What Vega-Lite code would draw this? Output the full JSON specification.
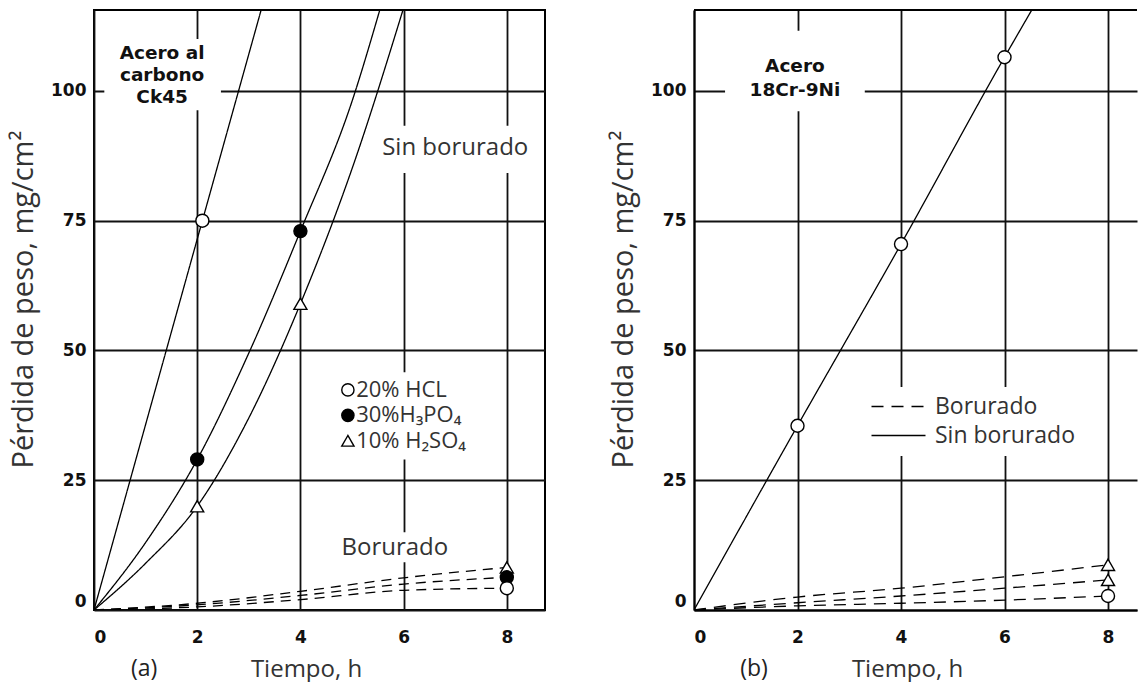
{
  "$schema": "https://vega.github.io/schema/vega-lite/v6.json",
  "background": "white",
  "padding": {"left": 8, "top": 9, "right": 0, "bottom": 0},
  "config": {
    "font": "Open Sans",
    "view": {"stroke": "black", "strokeWidth": 2},
    "axis": {
      "labelFont": "DejaVu Sans",
      "labelFontWeight": "bold",
      "labelFontSize": 17,
      "labelColor": "#111",
      "titleFont": "Open Sans",
      "titleFontWeight": "normal",
      "titleFontSize": 24,
      "titleColor": "#333",
      "gridColor": "#111",
      "gridOpacity": 1,
      "gridWidth": 1.8,
      "domain": false,
      "ticks": false
    },
    "legend": {
      "labelFont": "Open Sans",
      "labelFontSize": 23,
      "labelColor": "#333",
      "fillColor": "white"
    }
  },
  "datasets": {
    "curvas": [
      {"panel": "a", "serie": "HCL sin", "acido": "20% HCL", "tratamiento": "Sin borurado", "t": 0, "perdida": 0},
      {"panel": "a", "serie": "HCL sin", "acido": "20% HCL", "tratamiento": "Sin borurado", "t": 2.1, "perdida": 75},
      {"panel": "a", "serie": "HCL sin", "acido": "20% HCL", "tratamiento": "Sin borurado", "t": 3.25, "perdida": 116},
      {"panel": "a", "serie": "H3PO4 sin", "acido": "30%H₃PO₄", "tratamiento": "Sin borurado", "t": 0, "perdida": 0},
      {"panel": "a", "serie": "H3PO4 sin", "acido": "30%H₃PO₄", "tratamiento": "Sin borurado", "t": 1, "perdida": 13},
      {"panel": "a", "serie": "H3PO4 sin", "acido": "30%H₃PO₄", "tratamiento": "Sin borurado", "t": 2, "perdida": 29},
      {"panel": "a", "serie": "H3PO4 sin", "acido": "30%H₃PO₄", "tratamiento": "Sin borurado", "t": 3, "perdida": 49.5},
      {"panel": "a", "serie": "H3PO4 sin", "acido": "30%H₃PO₄", "tratamiento": "Sin borurado", "t": 4, "perdida": 73},
      {"panel": "a", "serie": "H3PO4 sin", "acido": "30%H₃PO₄", "tratamiento": "Sin borurado", "t": 5, "perdida": 98},
      {"panel": "a", "serie": "H3PO4 sin", "acido": "30%H₃PO₄", "tratamiento": "Sin borurado", "t": 5.55, "perdida": 116},
      {"panel": "a", "serie": "H2SO4 sin", "acido": "10% H₂SO₄", "tratamiento": "Sin borurado", "t": 0, "perdida": 0},
      {"panel": "a", "serie": "H2SO4 sin", "acido": "10% H₂SO₄", "tratamiento": "Sin borurado", "t": 1, "perdida": 9},
      {"panel": "a", "serie": "H2SO4 sin", "acido": "10% H₂SO₄", "tratamiento": "Sin borurado", "t": 2, "perdida": 20},
      {"panel": "a", "serie": "H2SO4 sin", "acido": "10% H₂SO₄", "tratamiento": "Sin borurado", "t": 3, "perdida": 37},
      {"panel": "a", "serie": "H2SO4 sin", "acido": "10% H₂SO₄", "tratamiento": "Sin borurado", "t": 4, "perdida": 59},
      {"panel": "a", "serie": "H2SO4 sin", "acido": "10% H₂SO₄", "tratamiento": "Sin borurado", "t": 5, "perdida": 85},
      {"panel": "a", "serie": "H2SO4 sin", "acido": "10% H₂SO₄", "tratamiento": "Sin borurado", "t": 6, "perdida": 116},
      {"panel": "a", "serie": "HCL bor", "acido": "20% HCL", "tratamiento": "Borurado", "t": 0, "perdida": 0},
      {"panel": "a", "serie": "HCL bor", "acido": "20% HCL", "tratamiento": "Borurado", "t": 2, "perdida": 0.6},
      {"panel": "a", "serie": "HCL bor", "acido": "20% HCL", "tratamiento": "Borurado", "t": 4, "perdida": 2},
      {"panel": "a", "serie": "HCL bor", "acido": "20% HCL", "tratamiento": "Borurado", "t": 6, "perdida": 3.8},
      {"panel": "a", "serie": "HCL bor", "acido": "20% HCL", "tratamiento": "Borurado", "t": 8, "perdida": 4.2},
      {"panel": "a", "serie": "H3PO4 bor", "acido": "30%H₃PO₄", "tratamiento": "Borurado", "t": 0, "perdida": 0},
      {"panel": "a", "serie": "H3PO4 bor", "acido": "30%H₃PO₄", "tratamiento": "Borurado", "t": 2, "perdida": 1},
      {"panel": "a", "serie": "H3PO4 bor", "acido": "30%H₃PO₄", "tratamiento": "Borurado", "t": 4, "perdida": 2.8},
      {"panel": "a", "serie": "H3PO4 bor", "acido": "30%H₃PO₄", "tratamiento": "Borurado", "t": 6, "perdida": 5},
      {"panel": "a", "serie": "H3PO4 bor", "acido": "30%H₃PO₄", "tratamiento": "Borurado", "t": 8, "perdida": 6.3},
      {"panel": "a", "serie": "H2SO4 bor", "acido": "10% H₂SO₄", "tratamiento": "Borurado", "t": 0, "perdida": 0},
      {"panel": "a", "serie": "H2SO4 bor", "acido": "10% H₂SO₄", "tratamiento": "Borurado", "t": 2, "perdida": 1.3},
      {"panel": "a", "serie": "H2SO4 bor", "acido": "10% H₂SO₄", "tratamiento": "Borurado", "t": 4, "perdida": 3.6},
      {"panel": "a", "serie": "H2SO4 bor", "acido": "10% H₂SO₄", "tratamiento": "Borurado", "t": 6, "perdida": 6.2},
      {"panel": "a", "serie": "H2SO4 bor", "acido": "10% H₂SO₄", "tratamiento": "Borurado", "t": 8, "perdida": 8.2},
      {"panel": "b", "serie": "sin", "tratamiento": "Sin borurado", "t": 0, "perdida": 0},
      {"panel": "b", "serie": "sin", "tratamiento": "Sin borurado", "t": 2, "perdida": 35.5},
      {"panel": "b", "serie": "sin", "tratamiento": "Sin borurado", "t": 4, "perdida": 70.5},
      {"panel": "b", "serie": "sin", "tratamiento": "Sin borurado", "t": 6, "perdida": 106.5},
      {"panel": "b", "serie": "sin", "tratamiento": "Sin borurado", "t": 6.55, "perdida": 116},
      {"panel": "b", "serie": "bor 1", "tratamiento": "Borurado", "t": 0, "perdida": 0},
      {"panel": "b", "serie": "bor 1", "tratamiento": "Borurado", "t": 2, "perdida": 2.5},
      {"panel": "b", "serie": "bor 1", "tratamiento": "Borurado", "t": 4, "perdida": 4.2},
      {"panel": "b", "serie": "bor 1", "tratamiento": "Borurado", "t": 6, "perdida": 6.4},
      {"panel": "b", "serie": "bor 1", "tratamiento": "Borurado", "t": 8, "perdida": 8.7},
      {"panel": "b", "serie": "bor 2", "tratamiento": "Borurado", "t": 0, "perdida": 0},
      {"panel": "b", "serie": "bor 2", "tratamiento": "Borurado", "t": 2, "perdida": 1.4},
      {"panel": "b", "serie": "bor 2", "tratamiento": "Borurado", "t": 4, "perdida": 2.7},
      {"panel": "b", "serie": "bor 2", "tratamiento": "Borurado", "t": 6, "perdida": 4.2},
      {"panel": "b", "serie": "bor 2", "tratamiento": "Borurado", "t": 8, "perdida": 5.8},
      {"panel": "b", "serie": "bor 3", "tratamiento": "Borurado", "t": 0, "perdida": 0},
      {"panel": "b", "serie": "bor 3", "tratamiento": "Borurado", "t": 2, "perdida": 0.8},
      {"panel": "b", "serie": "bor 3", "tratamiento": "Borurado", "t": 4, "perdida": 1.3},
      {"panel": "b", "serie": "bor 3", "tratamiento": "Borurado", "t": 6, "perdida": 1.9},
      {"panel": "b", "serie": "bor 3", "tratamiento": "Borurado", "t": 8, "perdida": 2.7}
    ],
    "medidas": [
      {"panel": "a", "serie": "H2SO4 sin", "acido": "10% H₂SO₄", "t": 2, "perdida": 20},
      {"panel": "a", "serie": "H2SO4 sin", "acido": "10% H₂SO₄", "t": 4, "perdida": 59},
      {"panel": "a", "serie": "H2SO4 bor", "acido": "10% H₂SO₄", "t": 8, "perdida": 8.2},
      {"panel": "a", "serie": "H3PO4 sin", "acido": "30%H₃PO₄", "t": 2, "perdida": 29},
      {"panel": "a", "serie": "H3PO4 sin", "acido": "30%H₃PO₄", "t": 4, "perdida": 73},
      {"panel": "a", "serie": "H3PO4 bor", "acido": "30%H₃PO₄", "t": 8, "perdida": 6.3},
      {"panel": "a", "serie": "HCL sin", "acido": "20% HCL", "t": 2.1, "perdida": 75},
      {"panel": "a", "serie": "HCL bor", "acido": "20% HCL", "t": 8, "perdida": 4.2},
      {"panel": "b", "serie": "sin", "t": 2, "perdida": 35.5},
      {"panel": "b", "serie": "sin", "t": 4, "perdida": 70.5},
      {"panel": "b", "serie": "sin", "t": 6, "perdida": 106.5},
      {"panel": "b", "serie": "bor 1", "t": 8, "perdida": 8.7},
      {"panel": "b", "serie": "bor 2", "t": 8, "perdida": 5.8},
      {"panel": "b", "serie": "bor 3", "t": 8, "perdida": 2.7}
    ]
  },
  "spacing": 63,
  "resolve": {
    "scale": {"x": "independent", "y": "independent", "shape": "independent", "fill": "independent", "strokeDash": "independent"},
    "legend": {"shape": "independent", "fill": "independent", "strokeDash": "independent"}
  },
  "hconcat": [
    {
      "width": 451,
      "height": 600,
      "layer": [
        {
          "data": {"values": [{}]},
          "mark": {"type": "rect", "color": "white"},
          "encoding": {
            "x": {"datum": 0.2, "type": "quantitative", "scale": {"domain": [0, 8.74], "nice": false}},
            "x2": {"datum": 2.46},
            "y": {"datum": 96.3, "type": "quantitative", "scale": {"domain": [0, 115.6], "nice": false}},
            "y2": {"datum": 110}
          }
        },
        {
          "data": {"values": [{}]},
          "mark": {"type": "rect", "color": "white"},
          "encoding": {"x": {"datum": 5.45}, "x2": {"datum": 8.66}, "y": {"datum": 84.2}, "y2": {"datum": 93.3}}
        },
        {
          "data": {"values": [{}]},
          "mark": {"type": "rect", "color": "white"},
          "encoding": {"x": {"datum": 4.73}, "x2": {"datum": 6.9}, "y": {"datum": 9.2}, "y2": {"datum": 15}}
        },
        {
          "data": {"values": [{}]},
          "mark": {"type": "rect", "color": "white"},
          "encoding": {"x": {"datum": 4.69}, "x2": {"datum": 7.97}, "y": {"datum": 29.0}, "y2": {"datum": 45.8}}
        },
        {
          "data": {"name": "curvas"},
          "transform": [{"filter": "datum.panel === 'a'"}],
          "mark": {"type": "line", "color": "black", "strokeWidth": 1.3, "interpolate": "monotone", "clip": true},
          "encoding": {
            "x": {
              "field": "t", "type": "quantitative", "title": "Tiempo, h",
              "scale": {"domain": [0, 8.74], "nice": false},
              "axis": {"values": [0, 2, 4, 6, 8], "grid": true, "labelPadding": 19, "titlePadding": 12, "titleX": 212}
            },
            "y": {
              "field": "perdida", "type": "quantitative", "title": "Pérdida de peso, mg/cm²",
              "scale": {"domain": [0, 115.6], "nice": false},
              "axis": {
                "values": [0, 25, 50, 75, 100], "grid": true, "labelPadding": 8, "titlePadding": 12,
                "titleFontSize": 29, "titleY": 289,
                "labelOffset": {"condition": {"test": "datum.value === 0", "value": -9}, "value": 0}
              }
            },
            "detail": {"field": "serie"},
            "strokeDash": {
              "field": "tratamiento", "type": "nominal", "legend": null,
              "scale": {"domain": ["Borurado", "Sin borurado"], "range": [[10, 7], [1, 0]]}
            }
          }
        },
        {
          "data": {"name": "medidas"},
          "transform": [{"filter": "datum.panel === 'a'"}],
          "mark": {"type": "point", "filled": true, "stroke": "black", "strokeWidth": 1.4, "size": 170, "opacity": 1},
          "encoding": {
            "x": {"field": "t", "type": "quantitative"},
            "y": {"field": "perdida", "type": "quantitative"},
            "shape": {
              "field": "acido", "type": "nominal", "legend": null,
              "scale": {"domain": ["20% HCL", "30%H₃PO₄", "10% H₂SO₄"], "range": ["circle", "circle", "triangle-up"]}
            },
            "fill": {
              "field": "acido", "type": "nominal", "legend": null,
              "scale": {"domain": ["20% HCL", "30%H₃PO₄", "10% H₂SO₄"], "range": ["white", "black", "white"]}
            }
          }
        },
        {
          "data": {"values": [{}]},
          "mark": {"type": "point", "shape": "circle", "filled": true, "fill": "white", "stroke": "black", "strokeWidth": 1.4, "size": 150, "opacity": 1},
          "encoding": {"x": {"datum": 4.92}, "y": {"datum": 42.4}}
        },
        {
          "data": {"values": [{}]},
          "mark": {"type": "point", "shape": "circle", "filled": true, "fill": "black", "stroke": "black", "strokeWidth": 1.4, "size": 150, "opacity": 1},
          "encoding": {"x": {"datum": 4.92}, "y": {"datum": 37.5}}
        },
        {
          "data": {"values": [{}]},
          "mark": {"type": "point", "shape": "triangle-up", "filled": true, "fill": "white", "stroke": "black", "strokeWidth": 1.4, "size": 150, "opacity": 1},
          "encoding": {"x": {"datum": 4.92}, "y": {"datum": 32.6}}
        },
        {
          "data": {"values": [{}]},
          "mark": {"type": "text", "fontSize": 22, "align": "left", "baseline": "middle", "color": "#333", "text": "20% HCL"},
          "encoding": {"x": {"datum": 5.08}, "y": {"datum": 42.4}}
        },
        {
          "data": {"values": [{}]},
          "mark": {"type": "text", "fontSize": 22, "align": "left", "baseline": "middle", "color": "#333", "text": "30%H₃PO₄"},
          "encoding": {"x": {"datum": 5.08}, "y": {"datum": 37.5}}
        },
        {
          "data": {"values": [{}]},
          "mark": {"type": "text", "fontSize": 22, "align": "left", "baseline": "middle", "color": "#333", "text": "10% H₂SO₄"},
          "encoding": {"x": {"datum": 5.08}, "y": {"datum": 32.6}}
        },
        {
          "data": {"values": [{}]},
          "mark": {"type": "text", "font": "DejaVu Sans", "fontWeight": "bold", "fontSize": 18.5, "lineHeight": 22, "align": "center", "baseline": "middle", "color": "#111", "text": ["Acero al", "carbono", "Ck45"]},
          "encoding": {"x": {"datum": 1.32}, "y": {"datum": 107.3}}
        },
        {
          "data": {"values": [{}]},
          "mark": {"type": "text", "fontSize": 24, "align": "center", "baseline": "middle", "color": "#333", "text": "Sin borurado"},
          "encoding": {"x": {"datum": 7.0}, "y": {"datum": 89}}
        },
        {
          "data": {"values": [{}]},
          "mark": {"type": "text", "fontSize": 24, "align": "center", "baseline": "middle", "color": "#333", "text": "Borurado"},
          "encoding": {"x": {"datum": 5.83}, "y": {"datum": 11.9}}
        },
        {
          "data": {"values": [{}]},
          "mark": {"type": "text", "fontSize": 23, "align": "center", "baseline": "middle", "color": "#222", "text": "(a)"},
          "encoding": {"x": {"datum": 0.97}, "y": {"datum": -11.3}}
        }
      ]
    },
    {
      "width": 443,
      "height": 600,
      "view": {"stroke": null},
      "layer": [
        {
          "data": {"values": [{}]},
          "mark": {"type": "rect", "color": "white"},
          "encoding": {
            "x": {"datum": 0.6, "type": "quantitative", "scale": {"domain": [0, 8.56], "nice": false}},
            "x2": {"datum": 3.3},
            "y": {"datum": 96.1, "type": "quantitative", "scale": {"domain": [0, 115.6], "nice": false}},
            "y2": {"datum": 111.6}
          }
        },
        {
          "data": {"values": [{}]},
          "mark": {"type": "rule", "color": "black", "strokeWidth": 2},
          "encoding": {"y": {"datum": 115.6}}
        },
        {
          "data": {"name": "curvas"},
          "transform": [{"filter": "datum.panel === 'b'"}],
          "mark": {"type": "line", "color": "black", "strokeWidth": 1.3, "interpolate": "monotone", "clip": true},
          "encoding": {
            "x": {
              "field": "t", "type": "quantitative", "title": "Tiempo, h",
              "scale": {"domain": [0, 8.56], "nice": false},
              "axis": {"values": [0, 2, 4, 6, 8], "grid": true, "labelPadding": 19, "titlePadding": 12, "titleX": 213, "domain": true, "domainColor": "black", "domainWidth": 2}
            },
            "y": {
              "field": "perdida", "type": "quantitative", "title": "Pérdida de peso, mg/cm²",
              "scale": {"domain": [0, 115.6], "nice": false},
              "axis": {
                "values": [0, 25, 50, 75, 100], "grid": true, "labelPadding": 8, "titlePadding": 12,
                "titleFontSize": 29, "titleY": 289,
                "domain": true, "domainColor": "black", "domainWidth": 2,
                "labelOffset": {"condition": {"test": "datum.value === 0", "value": -9}, "value": 0}
              }
            },
            "detail": {"field": "serie"},
            "strokeDash": {
              "field": "tratamiento", "type": "nominal",
              "scale": {"domain": ["Borurado", "Sin borurado"], "range": [[12, 8], [1, 0]]},
              "legend": {
                "title": null, "orient": "none", "legendX": 167, "legendY": 377, "padding": 8,
                "symbolType": "M-1,0L5,0", "symbolSize": 324, "symbolStrokeColor": "black",
                "symbolStrokeWidth": 1.5, "symbolFillColor": "transparent",
                "labelOffset": 43, "rowPadding": 5
              }
            }
          }
        },
        {
          "data": {"name": "medidas"},
          "transform": [{"filter": "datum.panel === 'b'"}],
          "mark": {"type": "point", "filled": true, "fill": "white", "stroke": "black", "strokeWidth": 1.4, "size": 170, "opacity": 1},
          "encoding": {
            "x": {"field": "t", "type": "quantitative"},
            "y": {"field": "perdida", "type": "quantitative"},
            "shape": {
              "field": "serie", "type": "nominal", "legend": null,
              "scale": {"domain": ["sin", "bor 1", "bor 2", "bor 3"], "range": ["circle", "triangle-up", "triangle-up", "circle"]}
            }
          }
        },
        {
          "data": {"values": [{}]},
          "mark": {"type": "text", "font": "DejaVu Sans", "fontWeight": "bold", "fontSize": 18.5, "lineHeight": 24, "align": "center", "baseline": "middle", "color": "#111", "text": ["Acero", "18Cr-9Ni"]},
          "encoding": {"x": {"datum": 1.95}, "y": {"datum": 104.8}}
        },
        {
          "data": {"values": [{}]},
          "mark": {"type": "text", "fontSize": 23, "align": "center", "baseline": "middle", "color": "#222", "text": "(b)"},
          "encoding": {"x": {"datum": 1.16}, "y": {"datum": -11.3}}
        }
      ]
    }
  ]
}
